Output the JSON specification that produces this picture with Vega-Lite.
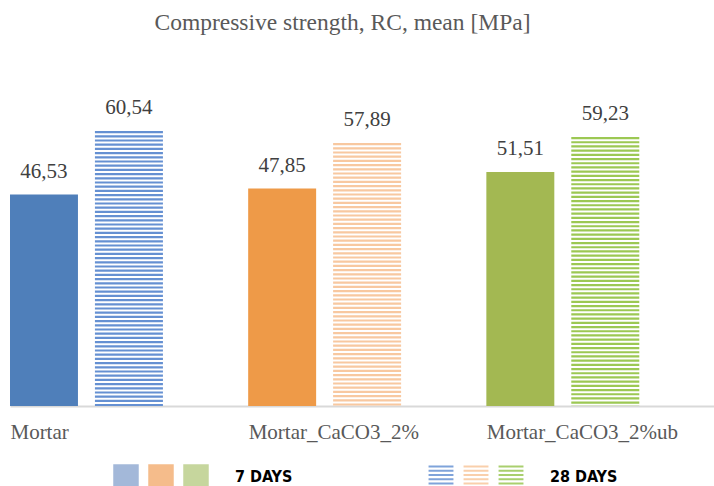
{
  "$schema": "https://vega.github.io/schema/vega-lite/v6.json",
  "padding": {"top": 10, "left": 9, "right": 0, "bottom": 0},
  "config": {
    "view": {"stroke": null},
    "locale": {"number": {"decimal": ",", "thousands": ".", "grouping": [3], "currency": ["", ""]}}
  },
  "spacing": 22,
  "resolve": {"scale": {"x": "independent", "fill": "independent", "color": "independent", "stroke": "independent"}},
  "vconcat": [
    {
      "width": 705,
      "height": 318,
      "title": {
        "text": "Compressive strength, RC, mean [MPa]",
        "font": "Liberation Serif",
        "fontSize": 23.5,
        "fontWeight": "normal",
        "color": "#595959",
        "anchor": "middle",
        "frame": "group",
        "dx": -20,
        "offset": 54
      },
      "data": {
        "values": [
          {"material": "Mortar", "period": "7 days", "value": 46.53},
          {"material": "Mortar", "period": "28 days", "value": 60.54},
          {"material": "Mortar_CaCO3_2%", "period": "7 days", "value": 47.85},
          {"material": "Mortar_CaCO3_2%", "period": "28 days", "value": 57.89},
          {"material": "Mortar_CaCO3_2%ub", "period": "7 days", "value": 51.51},
          {"material": "Mortar_CaCO3_2%ub", "period": "28 days", "value": 59.23}
        ]
      },
      "encoding": {
        "x": {
          "field": "material",
          "type": "nominal",
          "sort": null,
          "scale": {"domain": ["Mortar", "Mortar_CaCO3_2%", "Mortar_CaCO3_2%ub"], "paddingInner": 0.358, "paddingOuter": 0.159, "align": 0},
          "axis": {
            "title": null,
            "ticks": false,
            "domainColor": "#D9D9D9",
            "domainWidth": 2,
            "labelAlign": "left",
            "labelAngle": 0,
            "labelOffset": -76,
            "labelFont": "Liberation Serif",
            "labelFontSize": 21,
            "labelColor": "#595959",
            "labelPadding": 15,
            "labelLimit": 0,
            "labelOverlap": false,
            "labelBound": false
          }
        },
        "xOffset": {
          "field": "period",
          "type": "nominal",
          "sort": null,
          "scale": {"domain": ["7 days", "28 days"], "paddingInner": 0.2, "paddingOuter": 0}
        },
        "y": {
          "field": "value",
          "type": "quantitative",
          "scale": {"domain": [0, 70], "nice": false},
          "axis": null
        }
      },
      "layer": [
        {
          "transform": [{"filter": "datum.period === '7 days'"}],
          "mark": {"type": "bar"},
          "encoding": {
            "fill": {
              "field": "material",
              "type": "nominal",
              "sort": null,
              "scale": {"domain": ["Mortar", "Mortar_CaCO3_2%", "Mortar_CaCO3_2%ub"], "range": ["#4F7FBA", "#EE9A48", "#A3B852"]},
              "legend": null
            }
          }
        },
        {
          "transform": [{"filter": "datum.period === '28 days'"}],
          "mark": {"type": "rule", "strokeWidth": 68, "strokeDash": [2.2, 2.0], "strokeCap": "butt"},
          "encoding": {
            "y2": {"datum": 0},
            "stroke": {
              "field": "material",
              "type": "nominal",
              "sort": null,
              "scale": {"domain": ["Mortar", "Mortar_CaCO3_2%", "Mortar_CaCO3_2%ub"], "range": ["#6590D2", "#F8C8A0", "#9CC853"]},
              "legend": null
            }
          }
        },
        {
          "mark": {"type": "text", "baseline": "bottom", "dy": -13, "font": "Liberation Serif", "fontSize": 21, "color": "#404040"},
          "encoding": {
            "text": {"field": "value", "type": "quantitative", "format": ".2f"}
          }
        }
      ]
    },
    {
      "width": 547,
      "height": 26,
      "data": {
        "values": [
          {"key": "s1", "material": "Mortar", "kind": "7 days"},
          {"key": "s2", "material": "Mortar_CaCO3_2%", "kind": "7 days"},
          {"key": "s3", "material": "Mortar_CaCO3_2%ub", "kind": "7 days"},
          {"key": "t7", "kind": "label", "label": "7 DAYS"},
          {"key": "d1", "material": "Mortar", "kind": "28 days"},
          {"key": "d2", "material": "Mortar_CaCO3_2%", "kind": "28 days"},
          {"key": "d3", "material": "Mortar_CaCO3_2%ub", "kind": "28 days"},
          {"key": "t28", "kind": "label", "label": "28 DAYS"}
        ]
      },
      "encoding": {
        "x": {
          "field": "key",
          "type": "nominal",
          "scale": {"type": "point", "domain": ["a1", "a2", "a3", "s1", "s2", "s3", "t7", "g1", "g2", "g3", "g4", "g5", "d1", "d2", "d3", "t28"], "padding": 0.314, "align": 0.5},
          "axis": null
        }
      },
      "layer": [
        {
          "transform": [{"filter": "datum.kind === '7 days'"}],
          "mark": {"type": "point", "shape": "square", "filled": true, "size": 650, "opacity": 1},
          "encoding": {
            "fill": {
              "field": "material",
              "type": "nominal",
              "sort": null,
              "scale": {"domain": ["Mortar", "Mortar_CaCO3_2%", "Mortar_CaCO3_2%ub"], "range": ["#A3B8D9", "#F5BC8B", "#C6D69D"]},
              "legend": null
            }
          }
        },
        {
          "transform": [{"filter": "datum.kind === '28 days'"}],
          "mark": {
            "type": "point",
            "filled": true,
            "opacity": 1,
            "size": 620,
            "shape": "M-1,-0.92H1V-0.76H-1Z M-1,-0.58H1V-0.42H-1Z M-1,-0.24H1V-0.08H-1Z M-1,0.1H1V0.26H-1Z M-1,0.44H1V0.6H-1Z M-1,0.78H1V0.94H-1Z"
          },
          "encoding": {
            "color": {
              "field": "material",
              "type": "nominal",
              "sort": null,
              "scale": {"domain": ["Mortar", "Mortar_CaCO3_2%", "Mortar_CaCO3_2%ub"], "range": ["#7FA3DA", "#F9CFAB", "#A9CF6E"]},
              "legend": null
            }
          }
        },
        {
          "transform": [{"filter": "datum.kind === 'label'"}],
          "mark": {"type": "text", "align": "left", "baseline": "middle", "dx": 4, "font": "DejaVu Sans Condensed", "fontWeight": "bold", "fontSize": 16, "color": "#000000"},
          "encoding": {
            "text": {"field": "label", "type": "nominal"}
          }
        }
      ]
    }
  ]
}
